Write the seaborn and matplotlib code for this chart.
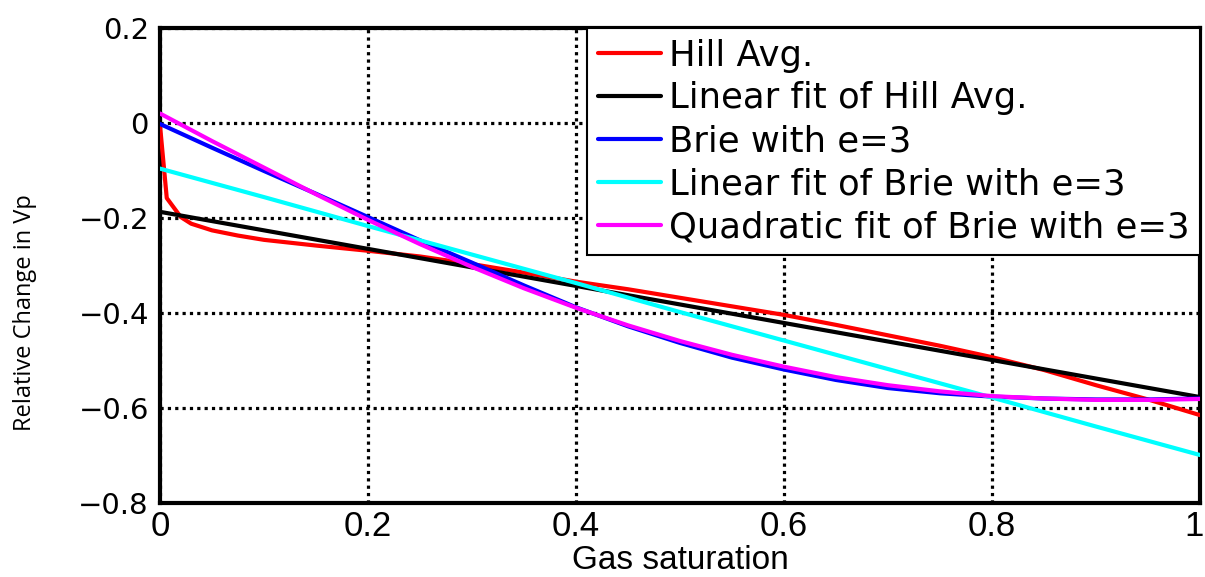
import numpy as np
import pandas as pd
import matplotlib
matplotlib.use("Agg")
import matplotlib.pyplot as plt
import matplotlib.transforms as mtransforms
import seaborn as sns

# ---------------- data ----------------
hill_s = [0.0, 0.0065, 0.02, 0.03, 0.05, 0.075, 0.1, 0.15, 0.2, 0.25, 0.3, 0.35,
          0.4, 0.45, 0.5, 0.55, 0.6, 0.65, 0.7, 0.75, 0.8, 0.85, 0.9, 0.95, 1.0]
hill_v = [-0.005, -0.158, -0.198, -0.212, -0.226, -0.237, -0.246, -0.258, -0.269,
          -0.281, -0.297, -0.315, -0.334, -0.350, -0.368, -0.386, -0.404, -0.425,
          -0.447, -0.469, -0.493, -0.520, -0.552, -0.582, -0.615]

fit_s = [0.0, 0.1, 0.2, 0.3, 0.4, 0.5, 0.6, 0.7, 0.8, 0.9, 1.0]
hill_lin_v = [-0.187, -0.226, -0.265, -0.304, -0.343, -0.382, -0.421, -0.460,
              -0.499, -0.538, -0.577]
brie_lin_v = [-0.096, -0.156, -0.217, -0.277, -0.337, -0.398, -0.458, -0.518,
              -0.578, -0.639, -0.699]

brie_s = [0.0, 0.05, 0.1, 0.15, 0.2, 0.25, 0.3, 0.35, 0.4, 0.45, 0.5, 0.55, 0.6,
          0.65, 0.7, 0.75, 0.8, 0.85, 0.9, 0.95, 1.0]
brie_v = [-0.002, -0.052, -0.101, -0.149, -0.198, -0.247, -0.294, -0.342, -0.388,
          -0.428, -0.463, -0.494, -0.519, -0.541, -0.558, -0.569, -0.576, -0.580,
          -0.582, -0.582, -0.580]
brie_quad_v = [0.020, -0.038, -0.094, -0.150, -0.204, -0.255, -0.303, -0.348,
               -0.389, -0.426, -0.459, -0.488, -0.513, -0.535, -0.552, -0.565,
               -0.575, -0.580, -0.583, -0.583, -0.581]

series_names = ["Hill Avg.", "Linear fit of Hill Avg.", "Brie with e=3",
                "Linear fit of Brie with e=3", "Quadratic fit of Brie with e=3"]
series_colors = ["#ff0000", "#000000", "#0000ff", "#00ffff", "#ff00ff"]

x_ticks = [0, 0.2, 0.4, 0.6, 0.8, 1]
x_tick_labels = ["0", "0.2", "0.4", "0.6", "0.8", "1"]
y_ticks = [-0.8, -0.6, -0.4, -0.2, 0, 0.2]
y_tick_labels = ["\u22120.8", "\u22120.6", "\u22120.4", "\u22120.2", "0", "0.2"]

x_label = "Gas saturation"
y_label = "Relative Change in Vp"

# ---------------- build long-form table ----------------
frames = []
for name, xs, ys in zip(series_names,
                        [hill_s, fit_s, brie_s, fit_s, brie_s],
                        [hill_v, hill_lin_v, brie_v, brie_lin_v, brie_quad_v]):
    frames.append(pd.DataFrame({"s": xs, "v": ys, "series": name}))
df = pd.concat(frames, ignore_index=True)

sns.set_theme(style="white")
plt.rcParams["font.family"] = ["DejaVu Sans"]
plt.rcParams["text.color"] = "black"
plt.rcParams["axes.labelcolor"] = "black"
plt.rcParams["xtick.color"] = "black"
plt.rcParams["ytick.color"] = "black"

fig = plt.figure(figsize=(12.05, 5.77), dpi=100)
ax = fig.add_axes([160 / 1205, 1 - 503 / 577, 1040 / 1205, 475 / 577])

sns.lineplot(data=df, x="s", y="v", hue="series", hue_order=series_names,
             palette=dict(zip(series_names, series_colors)), sort=False,
             estimator=None, units="series", linewidth=3.0, ax=ax, legend=False,
             zorder=3)

ax.set_xlim(0, 1)
ax.set_ylim(-0.8, 0.2)

ax.set_xticks(x_ticks)
ax.set_xticklabels(x_tick_labels, family="Liberation Sans", fontsize=25,
                   color="black")
ax.set_yticks(y_ticks)
ax.set_yticklabels(y_tick_labels, family="DejaVu Sans", fontsize=21,
                   color="black")
ax.tick_params(axis="x", direction="in", length=6, width=2.5, pad=5, colors="black")
ax.tick_params(axis="y", direction="in", length=6, width=2.5, pad=8, colors="black")

# keep the last x tick label inside the canvas
last = ax.get_xticklabels()[-1]
last.set_transform(last.get_transform() +
                   mtransforms.ScaledTranslation(-6 / 100, 0, fig.dpi_scale_trans))

ax.grid(True, color="black", linestyle=(0, (1, 1.3)), linewidth=2.3, zorder=1)

for sp in ax.spines.values():
    sp.set_color("black")
    sp.set_linewidth(3.0)
    sp.set_visible(True)

ax.set_xlabel(x_label, family="Liberation Sans", fontsize=24, color="black")
ax.xaxis.label.set_verticalalignment("baseline")
ax.xaxis.set_label_coords(0.5, (503 - 569) / 475)
ax.set_ylabel("")
fig.text(25 / 1205, 1 - 313 / 577, y_label, rotation=90, ha="center",
         va="center", family="Open Sans", fontsize=17, color="black")

handles = [plt.Line2D([], [], color=c, linewidth=3.0) for c in series_colors]
leg = ax.legend(handles, series_names, loc="upper right", borderaxespad=0,
                frameon=True, fancybox=False, framealpha=1, edgecolor="black",
                prop={"family": "DejaVu Sans", "size": 25.5}, handlelength=1.78,
                handletextpad=0.23, labelspacing=0.25, borderpad=0.3)
leg.get_frame().set_linewidth(1.5)
for t in leg.get_texts():
    t.set_color("black")
leg.set_zorder(5)

fig.savefig("out.png", dpi=100, facecolor="white")
